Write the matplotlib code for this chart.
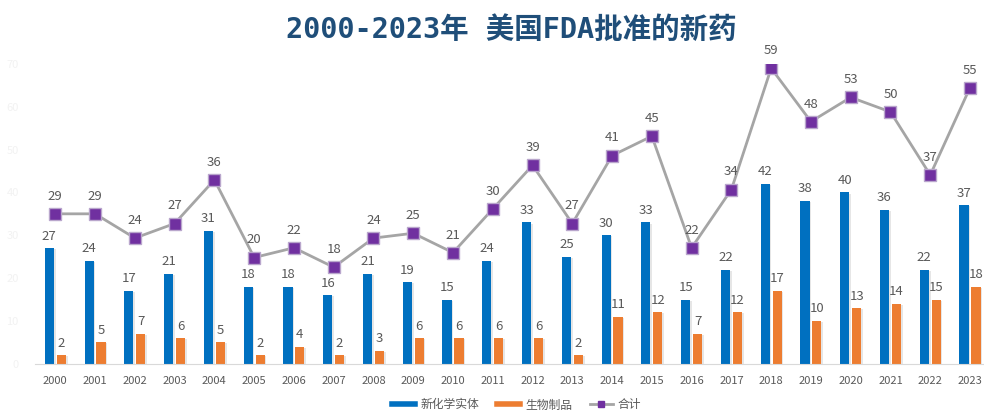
import numpy as np
import matplotlib
matplotlib.use("Agg")
import matplotlib.pyplot as plt
import matplotlib.patheffects as pe
from matplotlib.lines import Line2D

plt.rcParams['font.family'] = ['Noto Sans CJK SC', 'DejaVu Sans']

# data
years = [str(y) for y in range(2000, 2024)]
nme = [27, 24, 17, 21, 31, 18, 18, 16, 21, 19, 15, 24, 33, 25, 30, 33, 15, 22, 42, 38, 40, 36, 22, 37]
bio = [2, 5, 7, 6, 5, 2, 4, 2, 3, 6, 6, 6, 6, 2, 11, 12, 7, 12, 17, 10, 13, 14, 15, 18]
total = [29, 29, 24, 27, 36, 20, 22, 18, 24, 25, 21, 30, 39, 27, 41, 45, 22, 34, 59, 48, 53, 50, 37, 55]

blue = '#0070C0'
orange = '#ED7D31'
purple = '#7030A0'
label_col = '#595959'

fig = plt.figure(figsize=(9.84, 4.12), dpi=100)
ax = fig.add_axes([0.036, 0.117, 0.97, 0.728])

x = np.arange(len(years))
w = 0.23
shadow = [pe.SimplePatchShadow(offset=(1.2, -0.8), shadow_rgbFace='#CFCFCF', alpha=0.5), pe.Normal()]
b1 = ax.bar(x - 0.15, nme, width=w, color=blue, zorder=2)
b2 = ax.bar(x + 0.15, bio, width=w, color=orange, zorder=2)
for r in list(b1) + list(b2):
    r.set_path_effects(shadow)

for i in range(len(years)):
    ax.annotate(str(nme[i]), (x[i] - 0.15, nme[i]), xytext=(0, 4), textcoords='offset points',
                ha='center', va='bottom', fontsize=9.5, color=label_col)
    ax.annotate(str(bio[i]), (x[i] + 0.15, bio[i]), xytext=(0, 4), textcoords='offset points',
                ha='center', va='bottom', fontsize=9.5, color=label_col)

ax.set_xlim(-0.5, len(years) - 0.5)
ax.set_ylim(0, 70)
ax.set_xticks(x)
ax.set_xticklabels(years, fontsize=8, color=label_col)
ax.set_yticks(range(0, 71, 10))
ax.set_yticklabels([str(v) for v in range(0, 71, 10)], fontsize=8, color='#F2F2F2')
ax.tick_params(length=0, pad=9)
ax.tick_params(axis='y', pad=12)
for s in ['top', 'right', 'left']:
    ax.spines[s].set_visible(False)
ax.spines['bottom'].set_color('#D9D9D9')

# total line sits on its own (secondary) scale
ax2 = ax.twinx()
ax2.plot(x, total, color='#A5A5A5', lw=2, marker='s', markersize=8.5,
         markerfacecolor=purple, markeredgecolor='#B9A6CC', markeredgewidth=1, zorder=3)
for i in range(len(years)):
    ax2.annotate(str(total[i]), (x[i], total[i]), xytext=(0, 8), textcoords='offset points',
                 ha='center', va='bottom', fontsize=9.5, color=label_col, annotation_clip=False)
ax2.set_ylim(-1.9, 59.9)
ax2.set_yticks([])
for s in ax2.spines.values():
    s.set_visible(False)

fig.text(0.52, 0.927, '2000-2023年 美国FDA批准的新药', ha='center', va='center',
         fontsize=20.5, fontweight='bold', color='#1F4E79',
         family=['DejaVu Sans Mono', 'Noto Sans CJK SC'])

handles = [Line2D([], [], color=blue, lw=4),
           Line2D([], [], color=orange, lw=4),
           Line2D([], [], color='#A5A5A5', lw=2, marker='s', markersize=5,
                  markerfacecolor=purple, markeredgecolor=purple)]
fig.legend(handles, ['新化学实体', '生物制品', '合计'], loc='center', bbox_to_anchor=(0.525, 0.017),
           ncol=3, frameon=False, fontsize=8.5, handlelength=2.0, columnspacing=1.5,
           labelcolor=label_col, handletextpad=0.4)

fig.savefig('out.png', dpi=100)
